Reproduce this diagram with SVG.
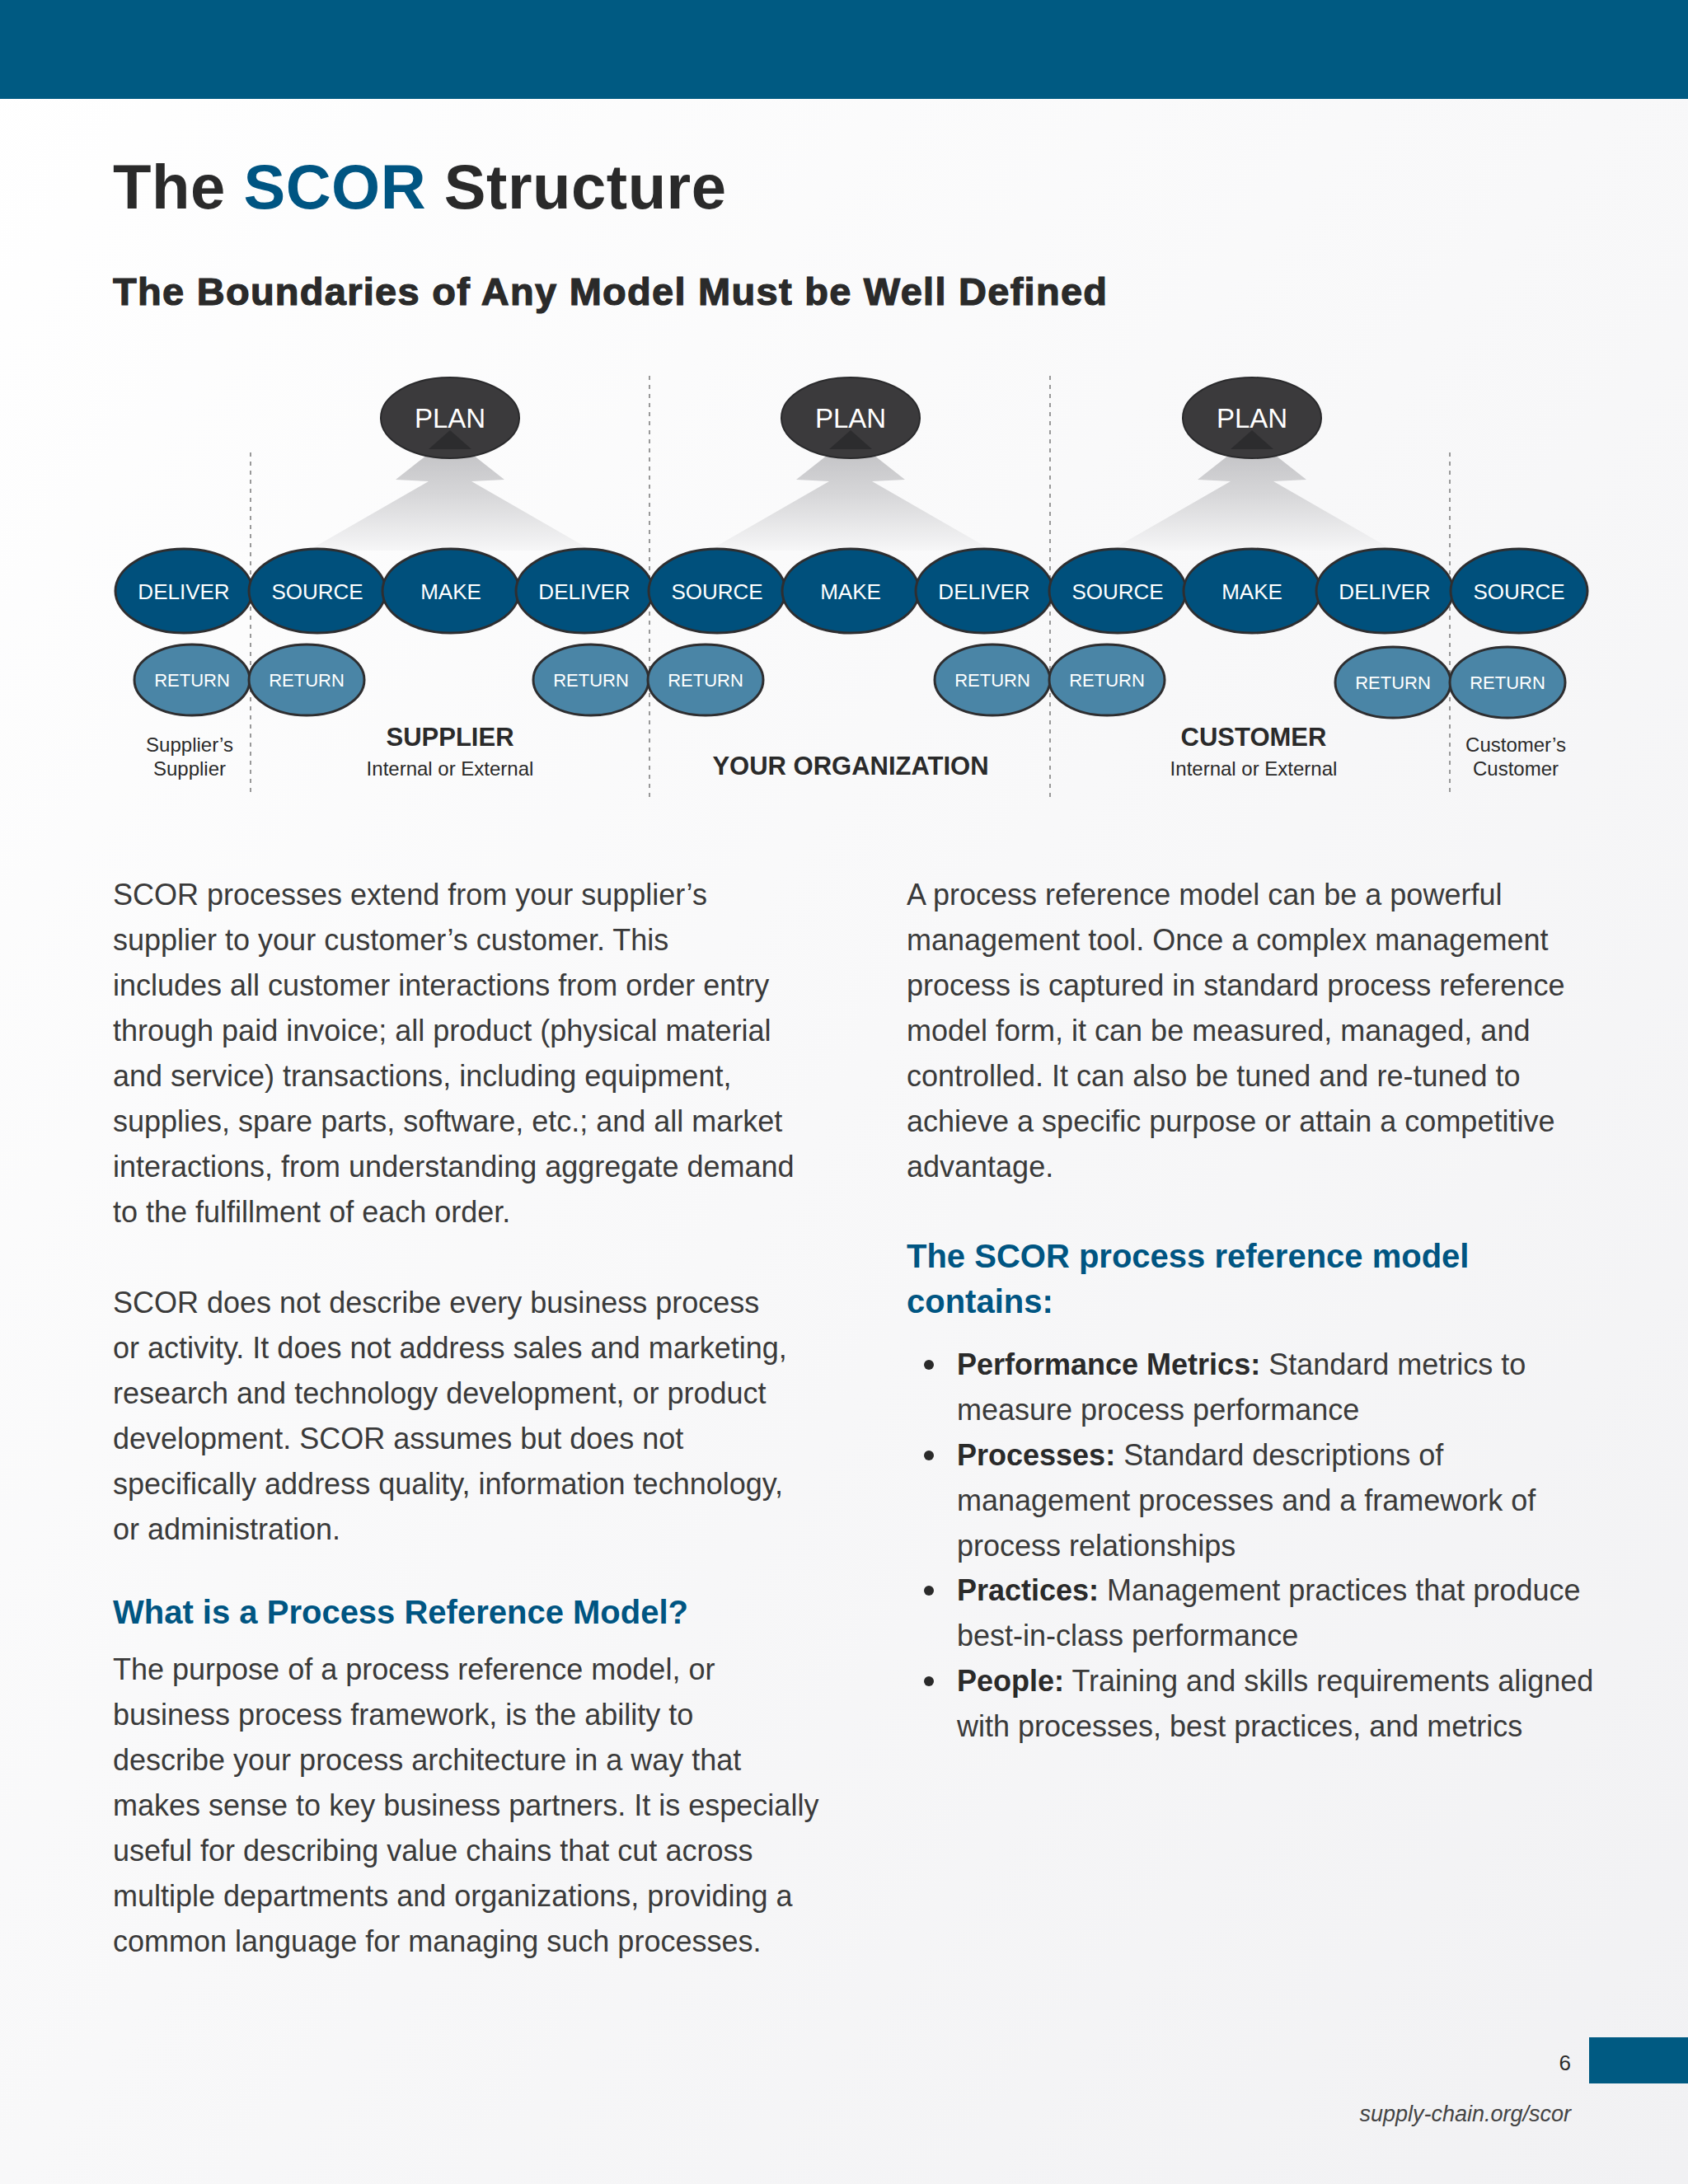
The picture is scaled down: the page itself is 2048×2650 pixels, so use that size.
<svg xmlns="http://www.w3.org/2000/svg" width="2048" height="2650" viewBox="0 0 2048 2650">
<defs>
<linearGradient id="bg" x1="0" y1="0" x2="1" y2="1"><stop offset="0" stop-color="#ffffff"/><stop offset="1" stop-color="#f1f1f3"/></linearGradient>
<linearGradient id="fan" x1="0" y1="0" x2="0" y2="1"><stop offset="0" stop-color="#bdbdc0"/><stop offset="0.5" stop-color="#d6d6d8"/><stop offset="1" stop-color="#f6f6f7"/></linearGradient>
<style>
.main{fill:#00507c;stroke:#2e2e30;stroke-width:3}
.ret{fill:#4a85a6;stroke:#2e2e30;stroke-width:3}
.plan{fill:#3b3a3c;stroke:#2a2a2c;stroke-width:2}
.ct{font-family:"Liberation Sans",Arial,sans-serif;fill:#fff;text-anchor:middle}
.lbl{font-family:"Liberation Sans",Arial,sans-serif;fill:#2a2a2a;text-anchor:middle}
.dash{stroke:#999;stroke-width:2;stroke-dasharray:5 6;fill:none}
.body{font-family:"Liberation Sans",Arial,sans-serif;font-size:36px;fill:#3a3a3a}
.h{font-family:"Liberation Sans",Arial,sans-serif;font-size:40px;font-weight:bold;fill:#005582}
</style>
</defs>
<rect width="2048" height="2650" fill="url(#bg)"/>
<rect width="2048" height="120" fill="#005a82"/>
<text x="137" y="253" font-family="Liberation Sans,Arial,sans-serif" font-weight="bold" font-size="76" fill="#2a2a2a" textLength="744">The <tspan fill="#005582">SCOR</tspan> Structure</text>
<text x="137" y="370" font-family="Liberation Sans,Arial,sans-serif" font-weight="bold" font-size="47" fill="#2a2a2a" textLength="1206" stroke="#2a2a2a" stroke-width="1.2">The Boundaries of Any Model Must be Well Defined</text>

<g id="fans">
<polygon points="546,530 612,582 572,584 718,668 374,668 520,584 480,582" fill="url(#fan)"/>
<polygon points="1032,530 1098,582 1058,584 1204,668 860,668 1006,584 966,582" fill="url(#fan)"/>
<polygon points="1519,530 1585,582 1545,584 1691,668 1347,668 1493,584 1453,582" fill="url(#fan)"/>
</g>

<g id="connectors">
<line class="dash" x1="304" y1="549" x2="304" y2="967"/>
<line class="dash" x1="788" y1="456" x2="788" y2="967"/>
<line class="dash" x1="1274" y1="456" x2="1274" y2="967"/>
<line class="dash" x1="1759" y1="549" x2="1759" y2="967"/>
</g>

<g id="plan1"><ellipse class="plan" cx="546" cy="507" rx="84" ry="49"/><polygon points="546,522 520,545 572,545" fill="#2c2c2e"/><text class="ct" x="546" y="519" font-size="33">PLAN</text></g>
<g id="plan2"><ellipse class="plan" cx="1032" cy="507" rx="84" ry="49"/><polygon points="1032,522 1006,545 1058,545" fill="#2c2c2e"/><text class="ct" x="1032" y="519" font-size="33">PLAN</text></g>
<g id="plan3"><ellipse class="plan" cx="1519" cy="507" rx="84" ry="49"/><polygon points="1519,522 1493,545 1545,545" fill="#2c2c2e"/><text class="ct" x="1519" y="519" font-size="33">PLAN</text></g>

<g id="ret1"><ellipse class="ret" cx="233" cy="825" rx="70" ry="43"/><text class="ct" x="233" y="833" font-size="22">RETURN</text></g>
<g id="ret2"><ellipse class="ret" cx="372" cy="825" rx="70" ry="43"/><text class="ct" x="372" y="833" font-size="22">RETURN</text></g>
<g id="ret3"><ellipse class="ret" cx="717" cy="825" rx="70" ry="43"/><text class="ct" x="717" y="833" font-size="22">RETURN</text></g>
<g id="ret4"><ellipse class="ret" cx="856" cy="825" rx="70" ry="43"/><text class="ct" x="856" y="833" font-size="22">RETURN</text></g>
<g id="ret5"><ellipse class="ret" cx="1204" cy="825" rx="70" ry="43"/><text class="ct" x="1204" y="833" font-size="22">RETURN</text></g>
<g id="ret6"><ellipse class="ret" cx="1343" cy="825" rx="70" ry="43"/><text class="ct" x="1343" y="833" font-size="22">RETURN</text></g>
<g id="ret7"><ellipse class="ret" cx="1690" cy="828" rx="70" ry="43"/><text class="ct" x="1690" y="836" font-size="22">RETURN</text></g>
<g id="ret8"><ellipse class="ret" cx="1829" cy="828" rx="70" ry="43"/><text class="ct" x="1829" y="836" font-size="22">RETURN</text></g>

<g id="n1"><ellipse class="main" cx="223" cy="717" rx="83" ry="51"/><text class="ct" x="223" y="727" font-size="26">DELIVER</text></g>
<g id="n2"><ellipse class="main" cx="385" cy="717" rx="83" ry="51"/><text class="ct" x="385" y="727" font-size="26">SOURCE</text></g>
<g id="n3"><ellipse class="main" cx="547" cy="717" rx="83" ry="51"/><text class="ct" x="547" y="727" font-size="26">MAKE</text></g>
<g id="n4"><ellipse class="main" cx="709" cy="717" rx="83" ry="51"/><text class="ct" x="709" y="727" font-size="26">DELIVER</text></g>
<g id="n5"><ellipse class="main" cx="870" cy="717" rx="83" ry="51"/><text class="ct" x="870" y="727" font-size="26">SOURCE</text></g>
<g id="n6"><ellipse class="main" cx="1032" cy="717" rx="83" ry="51"/><text class="ct" x="1032" y="727" font-size="26">MAKE</text></g>
<g id="n7"><ellipse class="main" cx="1194" cy="717" rx="83" ry="51"/><text class="ct" x="1194" y="727" font-size="26">DELIVER</text></g>
<g id="n8"><ellipse class="main" cx="1356" cy="717" rx="83" ry="51"/><text class="ct" x="1356" y="727" font-size="26">SOURCE</text></g>
<g id="n9"><ellipse class="main" cx="1519" cy="717" rx="83" ry="51"/><text class="ct" x="1519" y="727" font-size="26">MAKE</text></g>
<g id="n10"><ellipse class="main" cx="1680" cy="717" rx="83" ry="51"/><text class="ct" x="1680" y="727" font-size="26">DELIVER</text></g>
<g id="n11"><ellipse class="main" cx="1843" cy="717" rx="83" ry="51"/><text class="ct" x="1843" y="727" font-size="26">SOURCE</text></g>

<g id="labels">
<text class="lbl" x="230" y="912" font-size="24">Supplier’s</text>
<text class="lbl" x="230" y="941" font-size="24">Supplier</text>
<text class="lbl" x="546" y="905" font-size="31" font-weight="bold">SUPPLIER</text>
<text class="lbl" x="546" y="941" font-size="24">Internal or External</text>
<text class="lbl" x="1032" y="940" font-size="31" font-weight="bold">YOUR ORGANIZATION</text>
<text class="lbl" x="1521" y="905" font-size="31" font-weight="bold">CUSTOMER</text>
<text class="lbl" x="1521" y="941" font-size="24">Internal or External</text>
<text class="lbl" x="1839" y="912" font-size="24">Customer’s</text>
<text class="lbl" x="1839" y="941" font-size="24">Customer</text>
</g>

<g id="leftcol">
<text class="body" x="137" y="1098">SCOR processes extend from your supplier’s</text>
<text class="body" x="137" y="1153">supplier to your customer’s customer. This</text>
<text class="body" x="137" y="1208">includes all customer interactions from order entry</text>
<text class="body" x="137" y="1263">through paid invoice; all product (physical material</text>
<text class="body" x="137" y="1318">and service) transactions, including equipment,</text>
<text class="body" x="137" y="1373">supplies, spare parts, software, etc.; and all market</text>
<text class="body" x="137" y="1428">interactions, from understanding aggregate demand</text>
<text class="body" x="137" y="1483">to the fulfillment of each order.</text>
<text class="body" x="137" y="1593">SCOR does not describe every business process</text>
<text class="body" x="137" y="1648">or activity. It does not address sales and marketing,</text>
<text class="body" x="137" y="1703">research and technology development, or product</text>
<text class="body" x="137" y="1758">development. SCOR assumes but does not</text>
<text class="body" x="137" y="1813">specifically address quality, information technology,</text>
<text class="body" x="137" y="1868">or administration.</text>
<text class="h" x="137" y="1970">What is a Process Reference Model?</text>
<text class="body" x="137" y="2038">The purpose of a process reference model, or</text>
<text class="body" x="137" y="2093">business process framework, is the ability to</text>
<text class="body" x="137" y="2148">describe your process architecture in a way that</text>
<text class="body" x="137" y="2203">makes sense to key business partners. It is especially</text>
<text class="body" x="137" y="2258">useful for describing value chains that cut across</text>
<text class="body" x="137" y="2313">multiple departments and organizations, providing a</text>
<text class="body" x="137" y="2368">common language for managing such processes.</text>
</g>

<g id="rightcol">
<text class="body" x="1100" y="1098">A process reference model can be a powerful</text>
<text class="body" x="1100" y="1153">management tool. Once a complex management</text>
<text class="body" x="1100" y="1208">process is captured in standard process reference</text>
<text class="body" x="1100" y="1263">model form, it can be measured, managed, and</text>
<text class="body" x="1100" y="1318">controlled. It can also be tuned and re-tuned to</text>
<text class="body" x="1100" y="1373">achieve a specific purpose or attain a competitive</text>
<text class="body" x="1100" y="1428">advantage.</text>
<text class="h" x="1100" y="1538">The SCOR process reference model</text>
<text class="h" x="1100" y="1593">contains:</text>
<g fill="#2a2a2a"><circle cx="1127" cy="1656" r="6"/><circle cx="1127" cy="1766" r="6"/><circle cx="1127" cy="1930" r="6"/><circle cx="1127" cy="2040" r="6"/></g>
<text class="body" x="1161" y="1668"><tspan font-weight="bold" fill="#2a2a2a">Performance Metrics:</tspan> Standard metrics to</text>
<text class="body" x="1161" y="1723">measure process performance</text>
<text class="body" x="1161" y="1778"><tspan font-weight="bold" fill="#2a2a2a">Processes:</tspan> Standard descriptions of</text>
<text class="body" x="1161" y="1833">management processes and a framework of</text>
<text class="body" x="1161" y="1888">process relationships</text>
<text class="body" x="1161" y="1942"><tspan font-weight="bold" fill="#2a2a2a">Practices:</tspan> Management practices that produce</text>
<text class="body" x="1161" y="1997">best-in-class performance</text>
<text class="body" x="1161" y="2052"><tspan font-weight="bold" fill="#2a2a2a">People:</tspan> Training and skills requirements aligned</text>
<text class="body" x="1161" y="2107">with processes, best practices, and metrics</text>
</g>

<rect x="1928" y="2472" width="120" height="56" fill="#005a82"/>
<text x="1906" y="2512" font-family="Liberation Sans,Arial,sans-serif" font-size="26" fill="#2a2a2a" text-anchor="end">6</text>
<text x="1906" y="2574" font-family="Liberation Sans,Arial,sans-serif" font-size="27" font-style="italic" fill="#444" text-anchor="end">supply-chain.org/scor</text>
</svg>
